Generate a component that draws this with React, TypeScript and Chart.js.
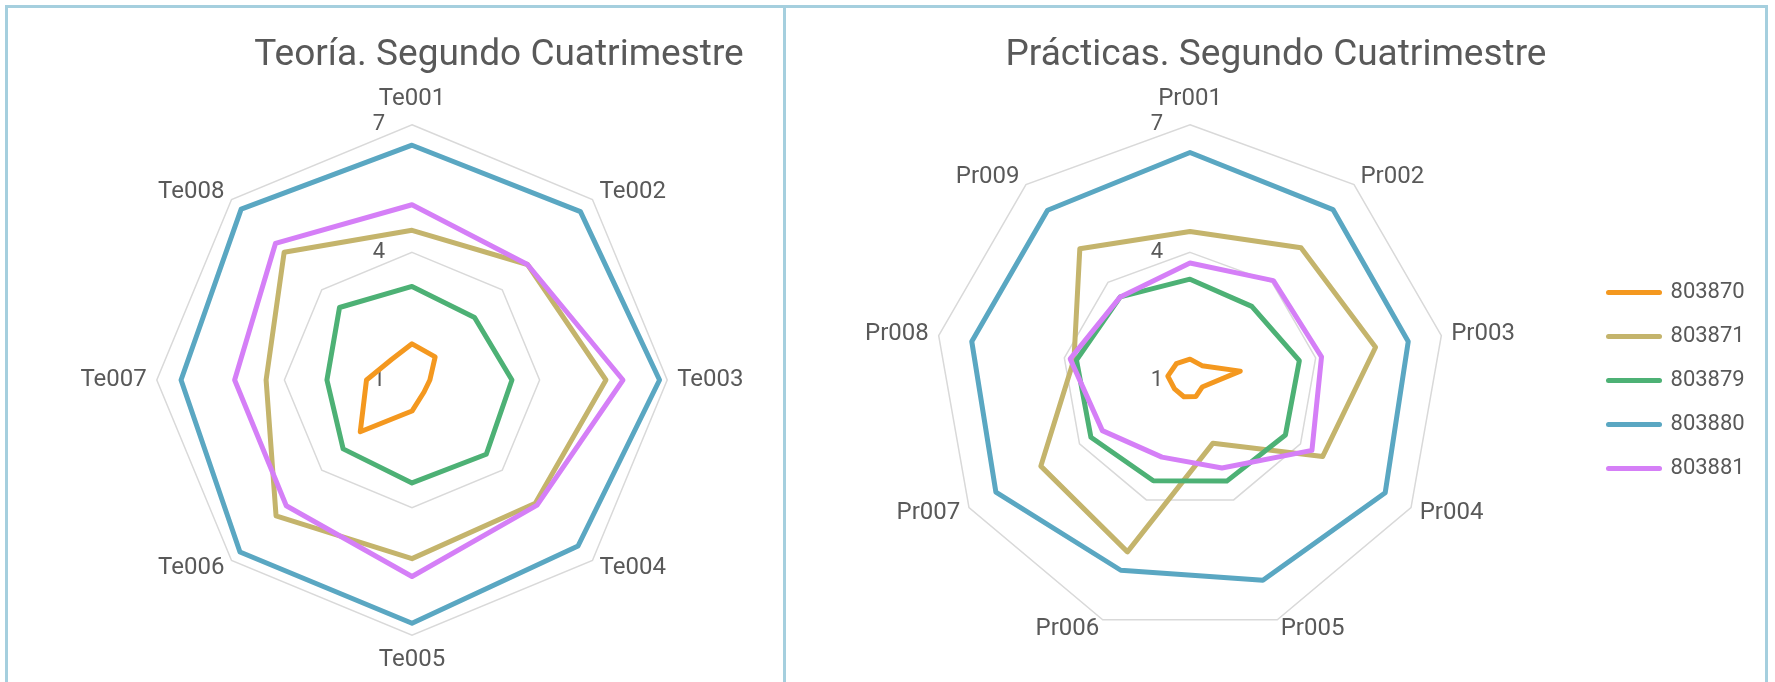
import React, { useEffect, useRef } from 'react';
import { Chart, registerables } from 'chart.js';

Chart.register(...registerables);

// ---------- data ----------
const STUDENTS = ['803870', '803871', '803879', '803880', '803881'];
const COLORS = ['#F4981F', '#C4B46C', '#4DB175', '#5AA7C2', '#D57FF7'];

const TITLE_TEORIA = 'Teoría. Segundo Cuatrimestre';
const TITLE_PRACTICAS = 'Prácticas. Segundo Cuatrimestre';

const TEORIA_LABELS = ['Te001', 'Te002', 'Te003', 'Te004', 'Te005', 'Te006', 'Te007', 'Te008'];
const PRACTICAS_LABELS = ['Pr001', 'Pr002', 'Pr003', 'Pr004', 'Pr005', 'Pr006', 'Pr007', 'Pr008', 'Pr009'];

const TICK_VALUES = [1, 4, 7];
const AXIS_MIN = 1;
const AXIS_MAX = 7;
const AXIS_STEP = 3;

// Teoría
const TE_803870 = [1.85, 1.77, 1.42, 1.4, 1.73, 2.72, 2.07, 1.68];
const TE_803871 = [4.52, 4.84, 5.56, 5.1, 5.2, 5.52, 4.43, 5.25];
const TE_803879 = [3.2, 3.08, 3.35, 3.47, 3.42, 3.29, 3.0, 3.41];
const TE_803880 = [6.52, 6.6, 6.82, 6.52, 6.72, 6.72, 6.43, 6.68];
const TE_803881 = [5.12, 4.84, 5.96, 5.16, 5.62, 5.18, 5.17, 5.54];

// Prácticas
const PR_803870 = [1.49, 1.44, 2.2, 1.33, 1.41, 1.42, 1.42, 1.53, 1.5];
const PR_803871 = [4.49, 5.06, 5.43, 4.6, 2.58, 5.3, 5.05, 3.77, 5.03];
const PR_803879 = [3.37, 3.26, 3.61, 3.59, 3.53, 3.52, 3.69, 3.71, 3.55];
const PR_803880 = [6.35, 6.23, 6.21, 6.3, 6.01, 5.76, 6.27, 6.21, 6.21];
const PR_803881 = [3.75, 4.05, 4.14, 4.31, 3.2, 2.93, 3.38, 3.86, 3.55];

const TEORIA_SERIES = [TE_803870, TE_803871, TE_803879, TE_803880, TE_803881];
const PRACTICAS_SERIES = [PR_803870, PR_803871, PR_803879, PR_803880, PR_803881];

// ---------- styling ----------
const FONT = 'Roboto, "Liberation Sans", Arial, sans-serif';
const TEXT = '#595959';
const GRID = '#D9D9D9';
const BORDER = '#A5CFDE';

type PanelProps = {
  title: string;
  labels: string[];
  series: number[][];
  showLegend: boolean;
  left: number;
  width: number;
  padding: { left: number; right: number; top: number; bottom: number };
  titleX: number;
};

function makePlugins(title: string, titleX: number) {
  const titlePlugin = {
    id: 'panelTitle',
    afterDraw(chart: any) {
      const ctx = chart.ctx;
      ctx.save();
      ctx.font = `37px ${FONT}`;
      ctx.fillStyle = TEXT;
      ctx.textAlign = 'center';
      ctx.textBaseline = 'alphabetic';
      ctx.fillText(title, titleX, 57);
      ctx.restore();
    },
  };
  // centre the category labels vertically on their spoke direction (Excel style)
  const labelPlacement = {
    id: 'labelPlacement',
    afterLayout(chart: any) {
      const scale = chart.scales.r;
      const items = scale && scale._pointLabelItems;
      if (!items) return;
      const n = items.length;
      items.forEach((it: any, i: number) => {
        const deg = Math.round((360 / n) * i);
        const h = it.bottom - it.top;
        if (deg === 0 || deg === 90 || deg === 180 || deg === 270) return;
        if (deg < 90 || deg > 270) {
          it.y += h / 2;
          it.top += h / 2;
          it.bottom += h / 2;
        } else {
          it.y -= h / 2;
          it.top -= h / 2;
          it.bottom -= h / 2;
        }
      });
    },
  };
  const tickPlugin = {
    id: 'radialTickLabels',
    beforeDatasetsDraw(chart: any) {
      const scale = chart.scales.r;
      const ctx = chart.ctx;
      ctx.save();
      ctx.font = `22px ${FONT}`;
      ctx.fillStyle = TEXT;
      ctx.textAlign = 'right';
      ctx.textBaseline = 'middle';
      TICK_VALUES.forEach((v) => {
        const p = scale.getPointPositionForValue(0, v);
        ctx.fillText(String(v), p.x - 27, p.y);
      });
      ctx.restore();
    },
  };
  return [titlePlugin, labelPlacement, tickPlugin];
}

function RadarPanel(props: PanelProps) {
  const ref = useRef<HTMLCanvasElement | null>(null);
  useEffect(() => {
    if (!ref.current) return;
    const n = props.series.length;
    const chart = new Chart(ref.current, {
      type: 'radar',
      data: {
        labels: props.labels,
        datasets: props.series.map((s, i) => ({
          label: STUDENTS[i],
          data: s,
          borderColor: COLORS[i],
          backgroundColor: COLORS[i],
          borderWidth: 5,
          pointRadius: 0,
          pointHoverRadius: 0,
          pointHitRadius: 0,
          fill: false,
          borderJoinStyle: 'round',
          order: n - i,
        })),
      },
      options: {
        responsive: false,
        animation: false,
        devicePixelRatio: 1,
        layout: { padding: props.padding },
        plugins: {
          title: { display: false },
          tooltip: { enabled: false },
          legend: {
            display: props.showLegend,
            position: 'right',
            align: 'center',
            title: { display: true, text: '', font: { size: 10 }, padding: { top: 7, bottom: 0 } },
            labels: {
              usePointStyle: true,
              pointStyleWidth: 51,
              color: TEXT,
              font: { family: FONT, size: 22 },
              padding: 22,
              sort: (a: any, b: any) => a.datasetIndex - b.datasetIndex,
              generateLabels: (c: any) =>
                (Chart.defaults.plugins.legend.labels.generateLabels as any)(c).map((l: any) => ({
                  ...l,
                  pointStyle: 'line',
                  lineWidth: 5,
                  lineCap: 'round',
                  strokeStyle: COLORS[l.datasetIndex],
                  fillStyle: COLORS[l.datasetIndex],
                })),
            },
          },
        },
        scales: {
          r: {
            min: AXIS_MIN,
            max: AXIS_MAX,
            beginAtZero: false,
            ticks: { stepSize: AXIS_STEP, display: false },
            grid: { color: GRID, lineWidth: 1.5 },
            angleLines: { display: false },
            pointLabels: {
              color: TEXT,
              font: { family: FONT, size: 24 },
              padding: (c: any) => (c.index === 0 ? 11 : 10),
            },
          },
        },
      } as any,
      plugins: makePlugins(props.title, props.titleX) as any,
    });
    return () => chart.destroy();
  }, []);
  return (
    <canvas
      ref={ref}
      width={props.width}
      height={674}
      style={{ position: 'absolute', left: props.left, top: 8, width: props.width, height: 674, display: 'block' }}
    />
  );
}

export default function App() {
  return (
    <div style={{ position: 'fixed', left: 0, top: 0, width: 1775, height: 682, overflow: 'hidden', background: '#ffffff' }}>
      <RadarPanel
        title={TITLE_TEORIA}
        labels={TEORIA_LABELS}
        series={TEORIA_SERIES}
        showLegend={false}
        left={8}
        width={777}
        padding={{ left: 31, right: 0, top: 77, bottom: 7 }}
        titleX={491}
      />
      <RadarPanel
        title={TITLE_PRACTICAS}
        labels={PRACTICAS_LABELS}
        series={PRACTICAS_SERIES}
        showLegend={true}
        left={786}
        width={979}
        padding={{ left: 7.5, right: 10.3, top: 68, bottom: 16 }}
        titleX={490}
      />
      <div style={{ position: 'absolute', left: 5, top: 5, width: 781, height: 720, border: `3px solid ${BORDER}`, boxSizing: 'border-box', pointerEvents: 'none' }} />
      <div style={{ position: 'absolute', left: 783, top: 5, width: 985, height: 720, border: `3px solid ${BORDER}`, boxSizing: 'border-box', pointerEvents: 'none' }} />
    </div>
  );
}
